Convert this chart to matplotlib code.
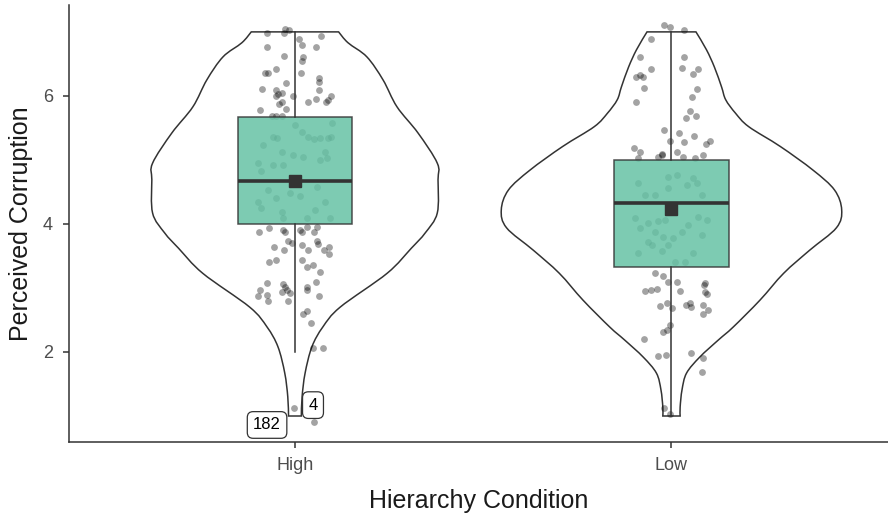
import numpy as np
import matplotlib
matplotlib.use("Agg")
import matplotlib.pyplot as plt
from matplotlib.path import Path
from matplotlib.patches import PathPatch

plt.rcParams["font.family"] = ["Liberation Sans", "DejaVu Sans"]

# ---- data ------------------------------------------------------------------
groups = ["High", "Low"]

# violin outline: level on the y scale and half-width (x units)
high_levels = [7.0, 6.83, 6.61, 6.25, 5.83, 5.42, 4.95, 4.69, 4.17, 3.86,
               3.62, 3.23, 2.70, 2.39, 2.08, 1.67, 1.30, 1.0]
high_halfw = [0.116, 0.141, 0.191, 0.234, 0.271, 0.327, 0.378, 0.380, 0.378,
              0.346, 0.309, 0.245, 0.120, 0.074, 0.045, 0.027, 0.019, 0.017]
low_levels = [7.0, 6.72, 6.45, 6.14, 5.94, 5.73, 5.52, 5.21, 4.84, 4.53,
              4.22, 3.94, 3.59, 3.23, 2.81, 2.39, 2.19, 1.92, 1.67, 1.41,
              1.14, 1.0]
low_halfw = [0.065, 0.093, 0.114, 0.133, 0.144, 0.170, 0.205, 0.289, 0.376,
             0.433, 0.452, 0.438, 0.367, 0.298, 0.235, 0.164, 0.125, 0.075,
             0.040, 0.028, 0.023, 0.023]

# box statistics
box_q1 = [4.00, 3.33]
box_med = [4.67, 4.33]
box_q3 = [5.67, 5.00]
whisk_lo = [2.0, 1.0]
whisk_hi = [7.0, 7.0]
group_mean = [4.67, 4.23]

# jittered observations: horizontal offset from group centre, value
high_dx = [-0.075, -0.027, -0.015, -0.029, 0.069, 0.011, 0.019, 0.057, -0.074,
           -0.029, 0.022, 0.019, -0.080, -0.071, -0.051, 0.015, 0.063, 0.063,
           -0.024, -0.088, -0.051, 0.064, -0.046, -0.035, -0.051, -0.005,
           0.095, 0.089, 0.082, 0.055, 0.035, -0.035, -0.042, -0.023, -0.092,
           -0.062, -0.049, -0.035, -0.058, -0.047, 0.000, 0.018, 0.035, 0.051,
           0.066, 0.089, 0.095, 0.098, -0.084, -0.035, 0.080, -0.098, -0.089,
           -0.058, -0.031, -0.005, 0.022, 0.066, 0.086, -0.098, -0.089, -0.051,
           -0.013, 0.013, -0.035, -0.033, 0.053, 0.080, 0.031, 0.093, -0.071,
           0.058, -0.095, -0.068, -0.031, -0.027, 0.013, 0.020, 0.031, 0.058,
           0.051, -0.018, -0.009, 0.018, 0.058, 0.062, -0.056, -0.029, 0.035,
           0.077, 0.091, 0.091, -0.068, -0.051, 0.020, 0.031, 0.047, 0.066,
           -0.074, -0.033, -0.027, 0.031, 0.056, -0.022, -0.013, -0.035,
           -0.093, -0.098, -0.074, -0.071, -0.018, 0.031, 0.065, 0.022, 0.033,
           0.042, 0.047, 0.075, -0.003, 0.051]
high_val = [6.99, 7.04, 7.03, 6.98, 6.93, 6.89, 6.79, 6.77, 6.77, 6.63, 6.61,
            6.54, 6.36, 6.36, 6.42, 6.36, 6.28, 6.22, 6.20, 6.11, 6.09, 6.10,
            6.03, 6.05, 6.00, 6.00, 6.00, 5.94, 5.91, 5.95, 5.90, 5.91, 5.87,
            5.79, 5.78, 5.68, 5.68, 5.69, 5.36, 5.35, 5.55, 5.44, 5.36, 5.33,
            5.35, 5.34, 5.36, 5.58, 5.23, 5.13, 5.13, 4.95, 4.82, 4.92, 4.92,
            5.08, 5.05, 5.00, 5.03, 4.35, 4.25, 4.40, 4.48, 4.43, 4.19, 4.09,
            4.22, 4.35, 4.09, 4.09, 4.53, 4.58, 3.88, 3.93, 3.91, 3.87, 3.91,
            3.88, 3.95, 3.95, 3.88, 3.74, 3.70, 3.67, 3.74, 3.69, 3.64, 3.59,
            3.59, 3.59, 3.64, 3.53, 3.40, 3.44, 3.43, 3.33, 3.36, 3.25, 3.07,
            3.06, 3.02, 3.01, 3.10, 2.97, 2.92, 2.93, 2.97, 2.88, 2.89, 2.79,
            2.79, 2.97, 2.88, 2.60, 2.64, 2.46, 2.06, 2.07, 1.12, 0.90]
low_dx = [-0.019, -0.004, 0.033, -0.055, -0.084, 0.034, -0.055, 0.027, -0.093,
          -0.084, -0.075, 0.058, 0.070, -0.072, 0.067, 0.055, -0.093, 0.049,
          0.038, 0.065, -0.019, 0.020, -0.004, 0.034, 0.061, 0.091, 0.101,
          -0.099, -0.084, -0.026, 0.014, -0.088, -0.035, -0.026, 0.031, 0.062,
          0.085, -0.088, -0.009, 0.014, 0.040, 0.058, 0.067, -0.070, -0.044,
          -0.009, 0.080, -0.097, -0.084, -0.062, -0.035, -0.017, -0.044,
          -0.022, 0.027, 0.045, 0.071, 0.094, -0.062, -0.053, -0.009, 0.005,
          -0.088, -0.026, 0.009, 0.036, 0.058, 0.080, -0.044, -0.022, -0.009,
          0.014, 0.089, 0.023, -0.070, -0.055, -0.039, 0.087, 0.089, 0.094,
          -0.031, -0.013, 0.001, 0.038, 0.049, 0.052, 0.085, 0.096, 0.085,
          -0.004, -0.022, -0.013, -0.072, -0.035, -0.015, 0.052, 0.085, 0.082,
          -0.019, -0.004]
low_val = [7.11, 7.07, 7.03, 6.89, 6.61, 6.60, 6.42, 6.44, 6.30, 6.33, 6.29,
           6.35, 6.42, 6.12, 6.11, 5.99, 5.91, 5.77, 5.66, 5.69, 5.46, 5.42,
           5.29, 5.28, 5.38, 5.25, 5.29, 5.19, 5.12, 5.10, 5.13, 5.03, 5.05,
           5.08, 5.05, 5.03, 5.08, 4.64, 4.74, 4.77, 4.61, 4.71, 4.64, 4.45,
           4.45, 4.56, 4.45, 4.09, 3.93, 4.01, 4.04, 4.06, 3.88, 3.80, 3.88,
           3.98, 4.11, 4.06, 3.72, 3.67, 3.67, 3.78, 3.54, 3.57, 3.41, 3.41,
           3.54, 3.83, 3.23, 3.18, 3.10, 3.09, 3.07, 2.96, 2.95, 2.97, 2.98,
           3.04, 2.93, 2.91, 2.72, 2.76, 2.68, 2.73, 2.76, 2.70, 2.73, 2.66,
           2.59, 2.42, 2.32, 2.34, 2.20, 1.93, 1.96, 1.99, 1.91, 1.69, 1.12,
           1.03]

# labelled cases in the High group (label, offset, value)
case_labels = ["182", "4"]
case_dx = [-0.074, 0.048]
case_val = [0.86, 1.17]

INK = "#333333"


def _smooth_side(xs, ys):
    """Catmull-Rom segments through the outline points, as Bezier parts."""
    verts, codes = [], []
    n = len(xs)
    for i in range(n - 1):
        p0 = np.array([xs[max(i - 1, 0)], ys[max(i - 1, 0)]])
        p1 = np.array([xs[i], ys[i]])
        p2 = np.array([xs[i + 1], ys[i + 1]])
        p3 = np.array([xs[min(i + 2, n - 1)], ys[min(i + 2, n - 1)]])
        c1 = p1 + (p2 - p0) / 6.0
        c2 = p2 - (p3 - p1) / 6.0
        verts += [tuple(c1), tuple(c2), tuple(p2)]
        codes += [Path.CURVE4] * 3
    return verts, codes


def violin_patch(pos, levels, halfw):
    lev = np.asarray(levels)
    hw = np.asarray(halfw)
    right_x, right_y = pos + hw, lev            # top -> bottom
    left_x, left_y = (pos - hw)[::-1], lev[::-1]  # bottom -> top
    verts = [(right_x[0], right_y[0])]
    codes = [Path.MOVETO]
    v, c = _smooth_side(right_x, right_y)
    verts += v
    codes += c
    verts.append((left_x[0], left_y[0]))
    codes.append(Path.LINETO)
    v, c = _smooth_side(left_x, left_y)
    verts += v
    codes += c
    verts.append((right_x[0], right_y[0]))
    codes.append(Path.CLOSEPOLY)
    return PathPatch(Path(verts, codes), facecolor="white", edgecolor=INK,
                     linewidth=1.1, zorder=1)


# ---- figure -----------------------------------------------------------------
fig = plt.figure(figsize=(8.88, 5.16), dpi=100)
ax = fig.add_axes([69 / 888, 74 / 516, 819 / 888, 437 / 516])

positions = [1, 2]
profiles = [(high_levels, high_halfw), (low_levels, low_halfw)]
points = [(high_dx, high_val), (low_dx, low_val)]

for pos, (lev, hw) in zip(positions, profiles):
    ax.add_patch(violin_patch(pos, lev, hw))

for pos, (dx, val) in zip(positions, points):
    ax.scatter(pos + np.asarray(dx), val, s=24, color="black", alpha=0.36,
               linewidths=0, zorder=2)

stats = [dict(q1=q1, med=md, q3=q3, whislo=lo, whishi=hi, mean=mn, fliers=[])
         for q1, md, q3, lo, hi, mn in zip(box_q1, box_med, box_q3,
                                            whisk_lo, whisk_hi, group_mean)]
ax.bxp(stats, positions=positions, widths=0.303, patch_artist=True,
       showcaps=False, showfliers=False, showmeans=True,
       boxprops=dict(facecolor="#66C2A5", alpha=0.85, edgecolor=INK,
                     linewidth=1.1),
       whiskerprops=dict(color=INK, linewidth=1.1),
       medianprops=dict(color=INK, linewidth=2.6),
       meanprops=dict(marker="s", markersize=9, markerfacecolor=INK,
                      markeredgecolor=INK),
       zorder=3)

for lab, dx, val in zip(case_labels, case_dx, case_val):
    ax.text(1 + dx, val, lab, ha="center", va="center", fontsize=12,
            color="black", zorder=6,
            bbox=dict(boxstyle="round,pad=0.35,rounding_size=0.35",
                      facecolor="white", edgecolor=INK, linewidth=0.9))

ax.set_xlim(0.4, 2.575)
ax.set_ylim(0.594, 7.42)
ax.set_xticks(positions)
ax.set_xticklabels(groups)
ax.set_yticks([2, 4, 6])
ax.tick_params(axis="both", colors=INK, labelcolor="#4D4D4D", labelsize=13,
               length=4.5, width=1.1)
ax.tick_params(axis="x", pad=6)
ax.tick_params(axis="y", pad=7)
for side in ("top", "right"):
    ax.spines[side].set_visible(False)
for side in ("left", "bottom"):
    ax.spines[side].set_color(INK)
    ax.spines[side].set_linewidth(1.1)

ax.set_xlabel("Hierarchy Condition", fontsize=18, color="#1a1a1a", labelpad=11)
ax.set_ylabel("Perceived Corruption", fontsize=18, color="#1a1a1a", labelpad=7)

fig.savefig("out.png", dpi=100)
